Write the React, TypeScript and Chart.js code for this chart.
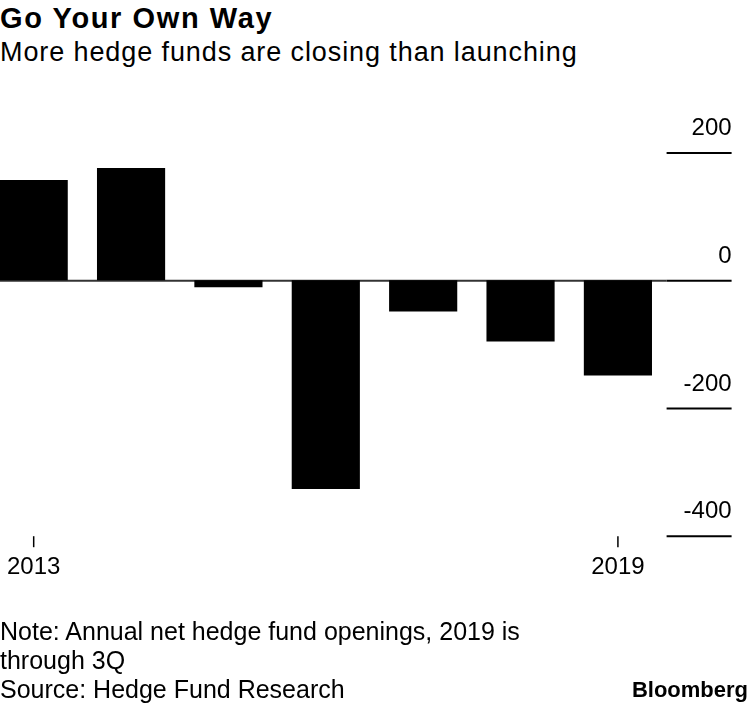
import React, { useEffect, useRef } from 'react';
import { Chart, registerables } from 'chart.js';

Chart.register(...registerables);

// ---- Data ----
const years = ['2013', '2014', '2015', '2016', '2017', '2018', '2019'];
const netOpenings = [157, 176, -11, -327, -49, -96, -149];
const yTickValues = [200, 0, -200, -400];
const xTickLabels = ['2013', '2019'];
const yMin = -400;
const yMax = 250;

const titleText = 'Go Your Own Way';
const subtitleText = 'More hedge funds are closing than launching';
const noteLines = ['Note: Annual net hedge fund openings, 2019 is', 'through 3Q', 'Source: Hedge Fund Research'];
const brandText = 'Bloomberg';

const FONT = '"Liberation Sans", Arial, Helvetica, sans-serif';

const axisPlugin = {
  id: 'bbgAxes',
  beforeDatasetsDraw(chart: any) {
    const { ctx, chartArea, scales } = chart;
    const y0 = scales.y.getPixelForValue(0);
    ctx.save();
    ctx.strokeStyle = '#333333';
    ctx.lineWidth = 2;
    ctx.beginPath();
    ctx.moveTo(chartArea.left, y0 + 0.5);
    ctx.lineTo(chartArea.right, y0 + 0.5);
    ctx.stroke();
    ctx.restore();
  },
  afterDatasetsDraw(chart: any) {
    const { ctx, chartArea, scales } = chart;
    ctx.save();
    const right = chartArea.right;
    const axisEnd = right + 65;
    ctx.font = `24px ${FONT}`;
    ctx.fillStyle = '#000';
    ctx.strokeStyle = '#000';
    ctx.textAlign = 'right';
    ctx.textBaseline = 'alphabetic';
    yTickValues.forEach((v) => {
      const py = scales.y.getPixelForValue(v);
      ctx.lineWidth = 2;
      ctx.beginPath();
      ctx.moveTo(right, py + 0.5);
      ctx.lineTo(axisEnd, py + 0.5);
      ctx.stroke();
      ctx.fillText(String(v), axisEnd, py - 17.5);
    });
    ctx.textAlign = 'center';
    xTickLabels.forEach((lbl) => {
      const i = years.indexOf(lbl);
      const px = scales.x.getPixelForValue(i);
      ctx.lineWidth = 1.5;
      ctx.beginPath();
      ctx.moveTo(px, chartArea.bottom + 0.5);
      ctx.lineTo(px, chartArea.bottom + 11.5);
      ctx.stroke();
      ctx.fillText(lbl, px, chartArea.bottom + 38.5);
    });
    ctx.restore();
  },
};

export default function App() {
  const canvasRef = useRef<HTMLCanvasElement | null>(null);

  useEffect(() => {
    document.body.style.margin = '0';
    const canvas = canvasRef.current;
    if (!canvas) return;
    const chart = new Chart(canvas, {
      type: 'bar',
      data: {
        labels: years,
        datasets: [
          {
            data: netOpenings,
            backgroundColor: '#000000',
            borderWidth: 0,
            categoryPercentage: 1,
            barPercentage: 0.7,
          },
        ],
      },
      options: {
        responsive: false,
        animation: false,
        devicePixelRatio: 1,
        layout: { padding: { left: 1, right: 83.4, top: 120.7, bottom: 170.3 } },
        plugins: { legend: { display: false }, tooltip: { enabled: false }, title: { display: false } },
        scales: {
          x: { display: false, offset: true },
          y: { display: false, min: yMin, max: yMax },
        },
      },
      plugins: [axisPlugin],
    });
    return () => chart.destroy();
  }, []);

  return (
    <div style={{ position: 'fixed', left: 0, top: 0, width: 750, height: 706, overflow: 'hidden', background: '#fff', color: '#000', fontFamily: FONT }}>
      <div style={{ position: 'absolute', left: 0, top: 3.5, fontSize: 29, lineHeight: '29px', fontWeight: 700, letterSpacing: '1.6px', whiteSpace: 'nowrap' }}>{titleText}</div>
      <div style={{ position: 'absolute', left: 0, top: 38.8, fontSize: 27, lineHeight: '27px', letterSpacing: '0.9px', whiteSpace: 'nowrap' }}>{subtitleText}</div>
      <canvas ref={canvasRef} width={766} height={706} style={{ position: 'absolute', left: -16, top: 0, width: 766, height: 706 }} />
      <div style={{ position: 'absolute', left: 0, top: 617, fontSize: 25, lineHeight: '29px', whiteSpace: 'nowrap' }}>
        {noteLines.map((l, i) => (
          <div key={i}>{l}</div>
        ))}
      </div>
      <div style={{ position: 'absolute', right: 2, top: 679, fontSize: 22, lineHeight: '22px', fontWeight: 700, letterSpacing: '0px', whiteSpace: 'nowrap' }}>{brandText}</div>
    </div>
  );
}
